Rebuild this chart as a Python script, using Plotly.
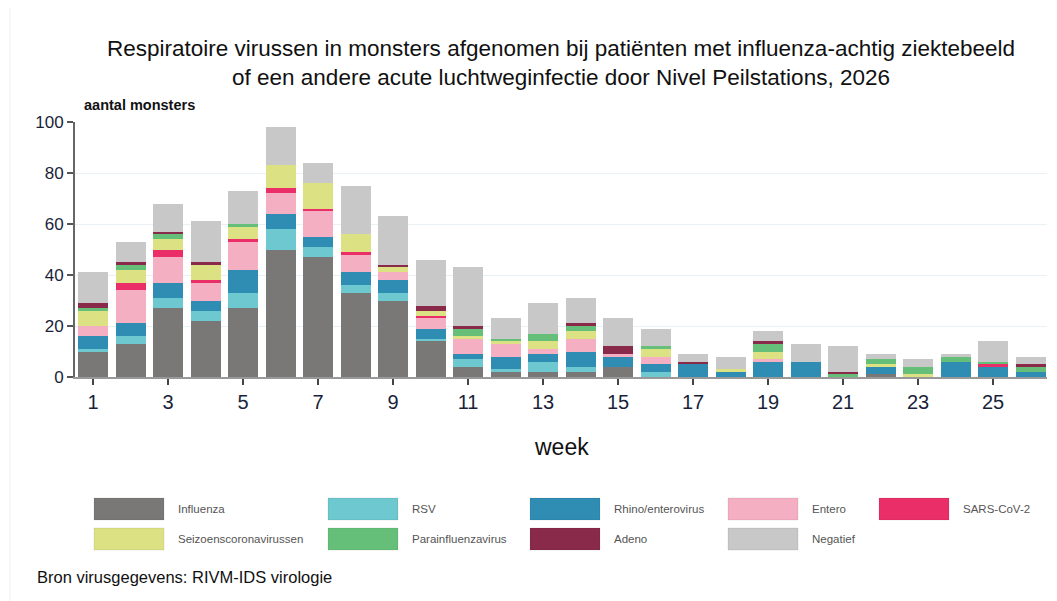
import plotly.graph_objects as go

weeks = list(range(1, 27))
series_names = ["Influenza", "RSV", "Rhino/enterovirus", "Entero", "SARS-CoV-2",
                "Seizoenscoronavirussen", "Parainfluenzavirus", "Adeno", "Negatief"]
colors = ["#7a7876", "#6dc8d0", "#2f8db3", "#f4afc2", "#ea2e67",
          "#dce283", "#66bf78", "#8a2a4a", "#c8c8c8"]

influenza = [10, 13, 27, 22, 27, 50, 47, 33, 30, 14, 4, 2, 2, 2, 4, 0, 0, 0, 0, 0, 0, 1, 0, 0, 0, 0]
rsv       = [1, 3, 4, 4, 6, 8, 4, 3, 3, 1, 3, 1, 4, 2, 0, 2, 0, 0, 0, 0, 0, 0, 0, 0, 0, 0]
rhino     = [5, 5, 6, 4, 9, 6, 4, 5, 5, 4, 2, 5, 3, 6, 4, 3, 5, 2, 6, 6, 0, 3, 0, 6, 4, 2]
entero    = [4, 13, 10, 7, 11, 8, 10, 7, 3, 4, 6, 5, 2, 5, 1, 3, 0, 0, 1, 0, 0, 0, 0, 0, 0, 0]
sars      = [0, 3, 3, 1, 1, 2, 1, 1, 0, 1, 0, 0, 0, 0, 0, 0, 0, 0, 0, 0, 0, 0, 0, 0, 1, 0]
seizoens  = [6, 5, 4, 6, 5, 9, 10, 7, 2, 2, 1, 1, 3, 3, 0, 3, 0, 1, 3, 0, 0, 1, 1, 0, 0, 0]
para      = [1, 2, 2, 0, 1, 0, 0, 0, 0, 0, 3, 1, 3, 2, 0, 1, 0, 0, 3, 0, 1, 2, 3, 2, 1, 2]
adeno     = [2, 1, 1, 1, 0, 0, 0, 0, 1, 2, 1, 0, 0, 1, 3, 0, 1, 0, 1, 0, 1, 0, 0, 0, 0, 1]
negatief  = [12, 8, 11, 16, 13, 15, 8, 19, 19, 18, 23, 8, 12, 10, 11, 7, 3, 5, 4, 7, 10, 2, 3, 1, 8, 3]

all_series = [influenza, rsv, rhino, entero, sars, seizoens, para, adeno, negatief]
x_ticks = list(range(1, 27, 2))
y_ticks = [0, 20, 40, 60, 80, 100]

FONT = "Liberation Sans, Arial, sans-serif"
OFF = 8  # page body margin
W, H = 1057 - OFF, 601 - OFF
L, R, T, B = 75 - OFF, 10, 122 - OFF, 224
PW, PH = W - L - R, H - T - B


def px(x):
    # x given in page pixels
    return (x - OFF - L) / PW


def py(y):
    return (H - B - (y - OFF)) / PH


fig = go.Figure()
for name, col, vals in zip(series_names, colors, all_series):
    fig.add_trace(go.Bar(x=weeks, y=vals, name=name, marker_color=col,
                         marker_line_width=0, showlegend=False))

# legend drawn as swatches + labels
col_sw = [94, 328, 530, 728, 879]
rows_y = [509, 539]
shapes = []
annotations = []
for i, (name, col) in enumerate(zip(series_names, colors)):
    r, c = divmod(i, 5)
    x0 = col_sw[c]
    yc = rows_y[r]
    shapes.append(dict(type="rect", xref="paper", yref="paper",
                       x0=px(x0), x1=px(x0 + 70), y0=py(yc + 11), y1=py(yc - 11),
                       fillcolor=col, line=dict(width=1, color="rgba(0,0,0,0.08)")))
    annotations.append(dict(xref="paper", yref="paper", x=px(x0 + 82), y=py(yc),
                            text=name, showarrow=False, xanchor="left", yanchor="middle",
                            font=dict(family=FONT, size=11.5, color="#555")))

# faint page border line on left
shapes.append(dict(type="line", xref="paper", yref="paper", x0=px(10), x1=px(10),
                   y0=py(OFF), y1=py(601), line=dict(color="#eeeeee", width=1)))

annotations += [
    dict(xref="paper", yref="paper", x=px(82), y=py(105), text="<b>aantal monsters</b>",
         showarrow=False, xanchor="left", yanchor="middle",
         font=dict(family=FONT, size=14.5, color="#111")),
    dict(xref="paper", yref="paper", x=px(561), y=py(447), text="week",
         showarrow=False, xanchor="center", yanchor="middle",
         font=dict(family=FONT, size=23, color="#111")),
    dict(xref="paper", yref="paper", x=px(35), y=py(577),
         text="Bron virusgegevens: RIVM-IDS virologie",
         showarrow=False, xanchor="left", yanchor="middle",
         font=dict(family=FONT, size=16.5, color="#111")),
    dict(xref="paper", yref="paper", x=px(561), y=py(63),
         text="Respiratoire virussen in monsters afgenomen bij patiënten met influenza-achtig ziektebeeld<br>of een andere acute luchtweginfectie door Nivel Peilstations, 2026",
         showarrow=False, xanchor="center", yanchor="middle",
         font=dict(family=FONT, size=22.5, color="#111")),
]

fig.update_layout(
    barmode="stack", bargap=0.2,
    width=W, height=H,
    margin=dict(l=L, r=R, t=T, b=B),
    paper_bgcolor="white", plot_bgcolor="white",
    font=dict(family=FONT),
    shapes=shapes, annotations=annotations,
    xaxis=dict(range=[0.52, 26.44], tickvals=x_ticks, ticktext=[str(v) for v in x_ticks],
               ticks="outside", ticklen=6, tickwidth=1.5, tickcolor="#444",
               showline=True, linecolor="#999", linewidth=2, showgrid=False,
               tickfont=dict(family=FONT, size=20, color="#1a1f3a"), zeroline=False),
    yaxis=dict(range=[0, 100], tickvals=y_ticks, ticks="outside", ticklen=6,
               tickwidth=1.5, tickcolor="#555", showline=True, linecolor="#666",
               linewidth=2, gridcolor="#e8f1f5", gridwidth=1, zeroline=False,
               tickfont=dict(family=FONT, size=17, color="#1a1f3a")),
)

fig.write_html("out.html")
